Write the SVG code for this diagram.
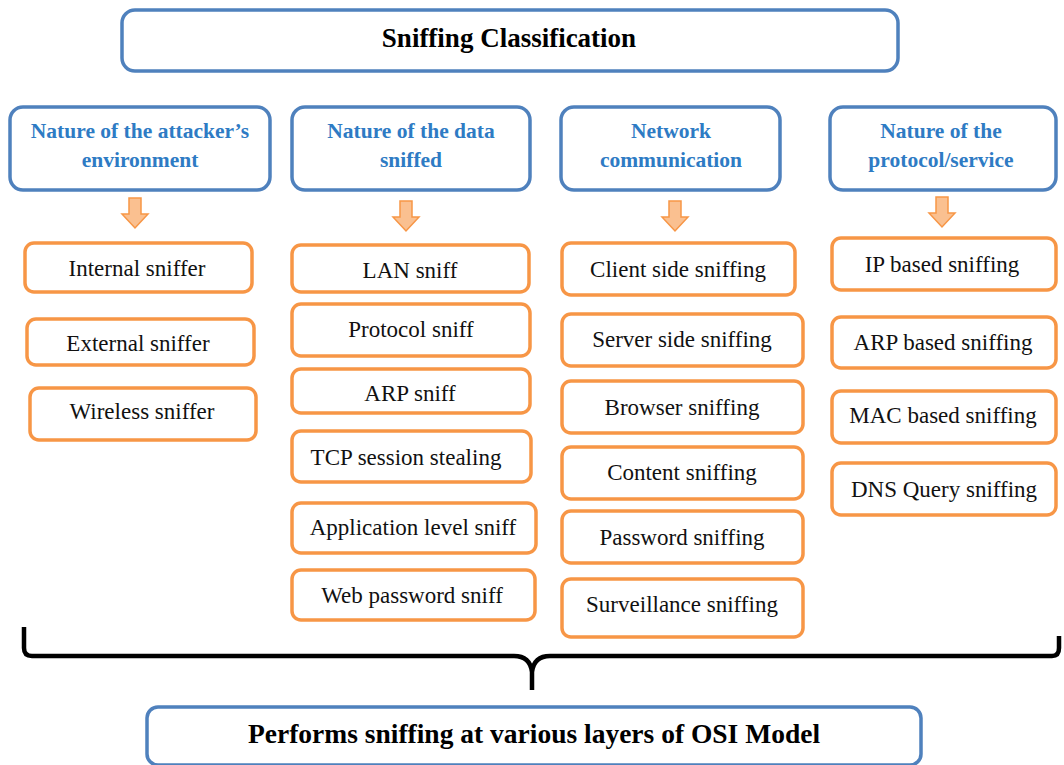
<svg xmlns="http://www.w3.org/2000/svg" width="1064" height="765" viewBox="0 0 1064 765">
  <style>
    .blue { fill: #ffffff; stroke: #4F81BD; stroke-width: 3.5; }
    .orange { fill: #ffffff; stroke: #F79646; stroke-width: 3.5; }
    .head { font-family: "Liberation Serif", serif; font-weight: bold; fill: #000000; text-anchor: middle; }
    .cat { font-family: "Liberation Serif", serif; font-weight: bold; font-size: 21.5px; fill: #2E7BC4; text-anchor: middle; }
    .item { font-family: "Liberation Serif", serif; font-size: 23px; fill: #111111; text-anchor: middle; }
    .down { fill: #FAC090; stroke: #F79646; stroke-width: 1.5; }
    .brace { fill: none; stroke: #000000; stroke-width: 4.5; stroke-linejoin: round; }
  </style>
  <defs>
    <path id="arrow" class="down" d="M -6 0 H 6 V 16 H 13 L 0 30 L -13 16 H -6 Z"/>
  </defs>
  <rect width="1064" height="765" fill="#ffffff"/>

  <g id="title">
    <rect class="blue" x="122" y="10" width="776" height="61" rx="13"/>
    <text class="head" x="509" y="47" font-size="27">Sniffing Classification</text>
  </g>

  <g id="cat-attacker">
    <rect class="blue" x="10" y="107" width="260" height="83" rx="13"/>
    <text class="cat" x="140" y="138">Nature of the attacker’s</text>
    <text class="cat" x="140" y="167">environment</text>
  </g>
  <g id="cat-data">
    <rect class="blue" x="292" y="107" width="238" height="83" rx="13"/>
    <text class="cat" x="411" y="138">Nature of the data</text>
    <text class="cat" x="411" y="167">sniffed</text>
  </g>
  <g id="cat-network">
    <rect class="blue" x="561" y="107" width="219" height="83" rx="13"/>
    <text class="cat" x="671" y="138">Network</text>
    <text class="cat" x="671" y="167">communication</text>
  </g>
  <g id="cat-protocol">
    <rect class="blue" x="830" y="107" width="226" height="83" rx="13"/>
    <text class="cat" x="941" y="138">Nature of the</text>
    <text class="cat" x="941" y="167">protocol/service</text>
  </g>

  <g id="connectors">
    <use href="#arrow" x="135" y="198"/>
    <use href="#arrow" x="406" y="201"/>
    <use href="#arrow" x="675" y="201"/>
    <use href="#arrow" x="942" y="197"/>
    <path class="brace" d="M 24 627 V 648 Q 24 656 32 656 H 514 Q 530 656 532 672 V 690 M 532 672 Q 534 656 550 656 H 1052 Q 1059 656 1059 648 V 636"/>
  </g>

  <g id="internal-sniffer"><rect class="orange" x="25" y="243" width="227" height="49" rx="9"/><text class="item" x="137" y="276">Internal sniffer</text></g>
  <g id="external-sniffer"><rect class="orange" x="27" y="319" width="227" height="46" rx="9"/><text class="item" x="138" y="351">External sniffer</text></g>
  <g id="wireless-sniffer"><rect class="orange" x="30" y="388" width="226" height="52" rx="9"/><text class="item" x="142" y="419">Wireless sniffer</text></g>

  <g id="lan-sniff"><rect class="orange" x="292" y="245" width="237" height="47" rx="9"/><text class="item" x="410" y="278">LAN sniff</text></g>
  <g id="protocol-sniff"><rect class="orange" x="292" y="304" width="238" height="52" rx="9"/><text class="item" x="411" y="337">Protocol sniff</text></g>
  <g id="arp-sniff"><rect class="orange" x="292" y="369" width="238" height="44" rx="9"/><text class="item" x="410" y="401">ARP sniff</text></g>
  <g id="tcp-session-stealing"><rect class="orange" x="292" y="431" width="239" height="51" rx="9"/><text class="item" x="406" y="465">TCP session stealing</text></g>
  <g id="application-level-sniff"><rect class="orange" x="292" y="503" width="244" height="50" rx="9"/><text class="item" x="413" y="535">Application level sniff</text></g>
  <g id="web-password-sniff"><rect class="orange" x="292" y="570" width="243" height="50" rx="9"/><text class="item" x="412" y="603">Web password sniff</text></g>

  <g id="client-side-sniffing"><rect class="orange" x="562" y="243" width="233" height="52" rx="9"/><text class="item" x="678" y="277">Client side sniffing</text></g>
  <g id="server-side-sniffing"><rect class="orange" x="562" y="314" width="241" height="52" rx="9"/><text class="item" x="682" y="347">Server side sniffing</text></g>
  <g id="browser-sniffing"><rect class="orange" x="562" y="381" width="241" height="52" rx="9"/><text class="item" x="682" y="415">Browser sniffing</text></g>
  <g id="content-sniffing"><rect class="orange" x="562" y="447" width="241" height="52" rx="9"/><text class="item" x="682" y="480">Content sniffing</text></g>
  <g id="password-sniffing"><rect class="orange" x="562" y="511" width="241" height="52" rx="9"/><text class="item" x="682" y="545">Password sniffing</text></g>
  <g id="surveillance-sniffing"><rect class="orange" x="562" y="579" width="241" height="58" rx="9"/><text class="item" x="682" y="612">Surveillance sniffing</text></g>

  <g id="ip-based-sniffing"><rect class="orange" x="832" y="238" width="224" height="52" rx="9"/><text class="item" x="942" y="272">IP based sniffing</text></g>
  <g id="arp-based-sniffing"><rect class="orange" x="832" y="317" width="224" height="51" rx="9"/><text class="item" x="943" y="350">ARP based sniffing</text></g>
  <g id="mac-based-sniffing"><rect class="orange" x="832" y="391" width="224" height="52" rx="9"/><text class="item" x="943" y="423">MAC based sniffing</text></g>
  <g id="dns-query-sniffing"><rect class="orange" x="832" y="463" width="224" height="52" rx="9"/><text class="item" x="944" y="497">DNS Query sniffing</text></g>

  <g id="osi-layers">
    <rect class="blue" x="147" y="707" width="774" height="58" rx="11"/>
    <text class="head" x="534" y="743" font-size="27.5">Performs sniffing at various layers of OSI Model</text>
  </g>
</svg>
